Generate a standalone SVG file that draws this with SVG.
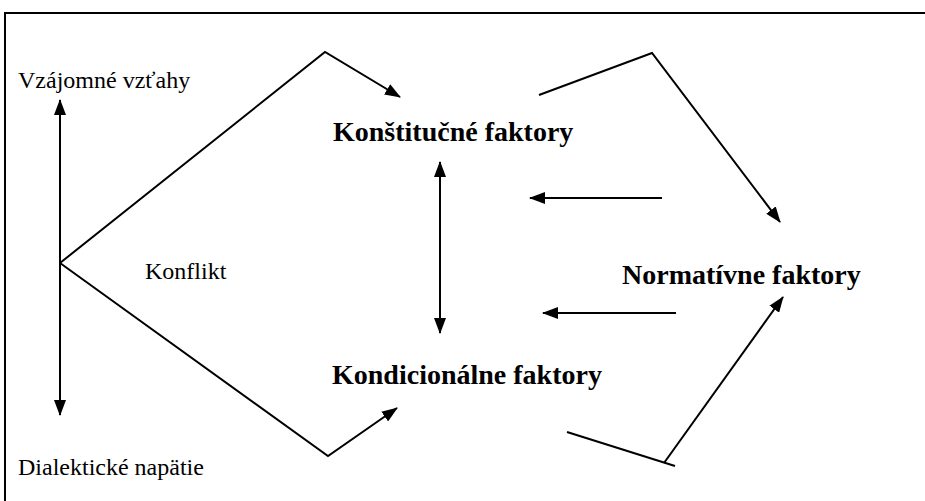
<svg xmlns="http://www.w3.org/2000/svg" width="925" height="501" viewBox="0 0 925 501">
<style>
.frame{fill:none;stroke:#000;stroke-width:2}
.ln{fill:none;stroke:#000;stroke-width:2;stroke-linejoin:miter}
.reg{font-family:"Liberation Serif","Times New Roman",serif;font-size:24px;fill:#000}
.bold{font-family:"Liberation Serif","Times New Roman",serif;font-size:28px;font-weight:bold;fill:#000}
</style>
<defs>
<marker id="ah" markerUnits="userSpaceOnUse" markerWidth="16" markerHeight="12" viewBox="0 0 16 12" refX="15" refY="6" orient="auto-start-reverse">
<path d="M0,0 L16,6 L0,12 z" fill="#000"/>
</marker>
</defs>
<rect class="frame" x="5" y="13" width="1000" height="600"/>
<g id="connectors">
<line class="ln" x1="60" y1="100" x2="60" y2="415" marker-start="url(#ah)" marker-end="url(#ah)"/>
<polyline class="ln" points="60,263 325,52 400,97" marker-end="url(#ah)"/>
<polyline class="ln" points="60,263 328,456 397,408" marker-end="url(#ah)"/>
<line class="ln" x1="440" y1="162" x2="440" y2="333" marker-start="url(#ah)" marker-end="url(#ah)"/>
<line class="ln" x1="662" y1="198" x2="530" y2="198" marker-end="url(#ah)"/>
<line class="ln" x1="676" y1="313" x2="543" y2="313" marker-end="url(#ah)"/>
<polyline class="ln" points="539,95 652,53 780,222" marker-end="url(#ah)"/>
<line class="ln" x1="567" y1="432" x2="675" y2="466"/>
<line class="ln" x1="664" y1="463" x2="783" y2="297" marker-end="url(#ah)"/>
</g>
<g id="vzajomne"><text class="reg" x="18" y="88">Vzájomné vzťahy</text></g>
<g id="konstitucne"><text class="bold" x="333" y="141">Konštitučné faktory</text></g>
<g id="konflikt"><text class="reg" x="145" y="279">Konflikt</text></g>
<g id="normativne"><text class="bold" x="622" y="284">Normatívne faktory</text></g>
<g id="kondicionalne"><text class="bold" x="332" y="384">Kondicionálne faktory</text></g>
<g id="dialekticke"><text class="reg" x="18" y="475">Dialektické napätie</text></g>
</svg>
